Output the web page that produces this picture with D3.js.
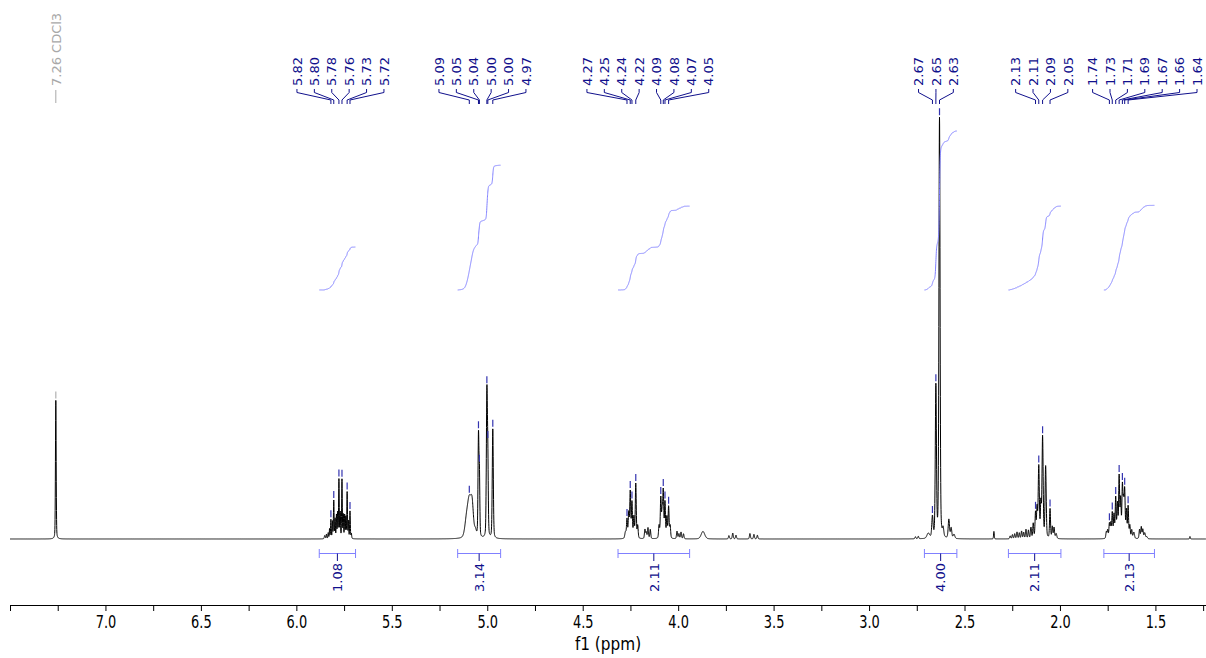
<!DOCTYPE html>
<html>
<head>
<meta charset="utf-8">
<script src="https://cdn.jsdelivr.net/npm/d3@7"></script>
<style>
  html, body { margin: 0; padding: 0; background: #ffffff; }
  svg { display: block; }
</style>
</head>
<body>
<svg id="chart" width="1206" height="658"></svg>
<script>
// 1H NMR spectrum (CDCl3). Every line: [shift ppm, height, half-width ppm]

const solventLine = [[7.260, 33, 0.0022]];

// Multiplets whose peaks carry shift labels
const vinylCH = [
  [5.819, 4.5, 0.0020], [5.804, 9, 0.0020], [5.777, 14, 0.0020],
  [5.761, 14, 0.0020], [5.734, 11, 0.0020], [5.719, 6.5, 0.0020]
];
const alkeneCH2 = [
  [5.094, 9, 0.012], [5.046, 24, 0.0028], [5.041, 14, 0.0025],
  [5.002, 34, 0.0032], [4.997, 16, 0.0028], [4.971, 26, 0.0032]
];
const oxyCH2 = [
  [4.268, 4.5, 0.003], [4.251, 11, 0.003], [4.242, 8.5, 0.003], [4.222, 13, 0.003],
  [4.091, 9.5, 0.003], [4.078, 11, 0.003], [4.069, 8.5, 0.003], [4.050, 7.5, 0.003]
];
const succinylCH2 = [
  [2.668, 5, 0.004], [2.650, 36, 0.0035], [2.631, 100, 0.0035]
];
const allylCH2 = [
  [2.128, 6, 0.003], [2.111, 17, 0.0035], [2.091, 24, 0.0035], [2.052, 7, 0.003]
];
const chainCH2 = [
  [1.741, 3.5, 0.003], [1.726, 6, 0.003], [1.708, 9.5, 0.003], [1.690, 14.5, 0.003],
  [1.673, 12, 0.003], [1.661, 11, 0.003], [1.643, 7.5, 0.003]
];

// Fine structure and small signals without labels
const unlabeledLines = [
  [5.851, 0.8, 0.003], [5.842, 1.1, 0.002], [5.833, 1.4, 0.002], [5.826, 2.3, 0.0018],
  [5.811, 4, 0.0018], [5.797, 4.6, 0.0018], [5.790, 5.5, 0.0018], [5.784, 6, 0.0018],
  [5.770, 6, 0.0018], [5.754, 5.5, 0.0018], [5.747, 5.5, 0.0018], [5.741, 5, 0.0018],
  [5.727, 4, 0.0018], [5.712, 1.2, 0.002],
  [5.110, 3, 0.010], [5.079, 6.5, 0.008], [5.062, 1.5, 0.006],
  [4.276, 1.5, 0.004], [4.259, 6, 0.003], [4.232, 5, 0.003], [4.212, 3, 0.003],
  [4.174, 2.2, 0.003], [4.167, 1.5, 0.003], [4.158, 2.6, 0.003], [4.146, 2.2, 0.003],
  [4.100, 3, 0.003], [4.084, 6, 0.003], [4.059, 5, 0.003], [4.042, 3, 0.003],
  [4.006, 1.8, 0.003], [3.996, 1.2, 0.003], [3.985, 1.6, 0.003], [3.972, 1.2, 0.003],
  [3.870, 1.8, 0.011],
  [3.734, 0.8, 0.003], [3.714, 1.4, 0.003], [3.697, 0.9, 0.003],
  [3.624, 1.3, 0.003], [3.603, 1.1, 0.003], [3.585, 0.9, 0.003],
  [2.757, 0.5, 0.003], [2.742, 0.6, 0.003], [2.690, 1.2, 0.008],
  [2.612, 2, 0.004], [2.582, 4.5, 0.004], [2.570, 2.5, 0.004], [2.555, 1, 0.005],
  [2.346, 1.8, 0.002],
  [2.261, 0.7, 0.003], [2.249, 1, 0.003], [2.237, 1.2, 0.003], [2.225, 1.6, 0.003],
  [2.213, 1.4, 0.003], [2.201, 1.8, 0.003], [2.190, 1.5, 0.003], [2.178, 2.2, 0.003],
  [2.165, 2, 0.003], [2.152, 2.6, 0.003], [2.140, 3.5, 0.003], [2.120, 7, 0.003],
  [2.100, 8, 0.003], [2.075, 17, 0.0035], [2.040, 2.8, 0.003], [2.031, 2.6, 0.003],
  [2.020, 1.2, 0.004],
  [1.757, 1.6, 0.003], [1.750, 2, 0.003], [1.734, 3.5, 0.003], [1.717, 5.5, 0.003],
  [1.699, 8, 0.003], [1.682, 9, 0.003], [1.667, 8, 0.003], [1.652, 6.5, 0.003],
  [1.634, 3, 0.003], [1.624, 2, 0.003], [1.613, 1.5, 0.004], [1.583, 2.2, 0.003],
  [1.574, 2.8, 0.003], [1.566, 2.2, 0.003], [1.556, 1.4, 0.004], [1.545, 0.5, 0.004],
  [1.319, 0.6, 0.002]
];

// Integration regions
const integralFrom = [5.88, 5.155, 4.315, 2.71, 2.27, 1.77];
const integralTo = [5.69, 4.93, 3.94, 2.54, 1.995, 1.505];
const integralValues = [1.08, 3.14, 2.11, 4.00, 2.11, 2.13];

// Axis ticks
const tickLabels = [7.0, 6.5, 6.0, 5.5, 5.0, 4.5, 4.0, 3.5, 3.0, 2.5, 2.0, 1.5];
const minorStep = 0.25;

const solventName = "CDCl3";

// ---------------------------------------------------------------------------

const W = 1206, H = 658;
const svg = d3.select("#chart");

const x = d3.scaleLinear().domain([7.5, 1.235]).range([10, W]);
const y = d3.scaleLinear().domain([0, 100]).range([539, 119]);
const yInt = d3.scaleLinear().domain([0, 4]).range([290, 131]);

const labeledGroups = [vinylCH, alkeneCH2, oxyCH2, succinylCH2, allylCH2, chainCH2];
const allLines = solventLine.concat(...labeledGroups, unlabeledLines);

// Pseudo-Voigt line shape
function intensity(p) {
  let s = 0;
  for (const [c, h, w] of allLines) {
    const t = (p - c) / w;
    if (t > 400 || t < -400) continue;
    const t2 = t * t;
    s += h * (0.3 / (1 + t2) + 0.7 * Math.exp(-0.693147 * t2));
  }
  return s;
}

const [pLeft, pRight] = x.domain();
const grid = d3.range(pLeft, pRight - 1e-9, -0.0005);
const ppmPts = Array.from(new Set(grid.concat(allLines.map(d => d[0]))))
  .filter(p => p <= pLeft && p >= pRight)
  .sort((a, b) => b - a);
const spectrum = ppmPts.map(p => [p, intensity(p)]);

// Spectrum trace
svg.append("path")
  .datum(spectrum)
  .attr("fill", "none")
  .attr("stroke", "#000")
  .attr("stroke-width", 1)
  .attr("stroke-linejoin", "round")
  .attr("d", d3.line().x(d => x(d[0])).y(d => y(d[1])));

// Integral curves and brackets
const intColor = "#8080ff";
const navy = "#10108c";
const labelFont = "DejaVu Sans, Verdana, sans-serif";

integralValues.forEach((val, i) => {
  const a = integralFrom[i], b = integralTo[i];
  const seg = spectrum.filter(d => d[0] <= a && d[0] >= b);
  const cum = [0];
  for (let k = 1; k < seg.length; k++) {
    cum.push(cum[k - 1] + (seg[k - 1][1] + seg[k][1]) / 2 * (seg[k - 1][0] - seg[k][0]));
  }
  const total = cum[cum.length - 1];
  const curve = seg.map((d, k) => [d[0], cum[k] / total * val]);
  svg.append("path")
    .datum(curve)
    .attr("fill", "none")
    .attr("stroke", intColor)
    .attr("stroke-width", 1)
    .attr("d", d3.line().x(d => x(d[0])).y(d => yInt(d[1])));

  const x1 = x(a), x2 = x(b), xm = (x1 + x2) / 2;
  const g = svg.append("g").attr("stroke", intColor).attr("stroke-width", 1);
  g.append("line").attr("x1", x1).attr("x2", x2).attr("y1", 553.5).attr("y2", 553.5);
  g.append("line").attr("x1", x1).attr("x2", x1).attr("y1", 549).attr("y2", 558);
  g.append("line").attr("x1", x2).attr("x2", x2).attr("y1", 549).attr("y2", 558);
  svg.append("line").attr("x1", xm).attr("x2", xm).attr("y1", 553.5).attr("y2", 561)
    .attr("stroke", navy).attr("stroke-width", 1);
  svg.append("text")
    .attr("transform", `translate(${xm},563) rotate(-90)`)
    .attr("text-anchor", "end")
    .attr("dy", "0.36em")
    .attr("font-family", labelFont)
    .attr("font-size", 13)
    .attr("fill", navy)
    .text(val.toFixed(2));
});

// Peak markers, labels and connectors
const fmt = d3.format(".2f");
const labelStep = 17.4, groupGap = 29, labelMaxX = 1197;
let prevLast = -Infinity;
labeledGroups.forEach(group => {
  const px = group.map(d => x(d[0]));
  const n = px.length;
  let start = d3.mean(px) - (n - 1) / 2 * labelStep;
  if (start < prevLast + groupGap) start = prevLast + groupGap;
  if (start + (n - 1) * labelStep > labelMaxX) start = labelMaxX - (n - 1) * labelStep;
  prevLast = start + (n - 1) * labelStep;

  group.forEach((d, k) => {
    const lx = start + k * labelStep;
    const top = y(intensity(d[0]));
    svg.append("line")
      .attr("x1", px[k]).attr("x2", px[k])
      .attr("y1", top - 9).attr("y2", top - 2)
      .attr("stroke", "#3434b0").attr("stroke-width", 1.2);
    svg.append("path")
      .attr("fill", "none")
      .attr("stroke", navy)
      .attr("stroke-width", 1)
      .attr("d", `M${lx},89V92.5L${px[k]},100V104`);
    svg.append("text")
      .attr("transform", `translate(${lx},86) rotate(-90)`)
      .attr("dy", "0.36em")
      .attr("font-family", labelFont)
      .attr("font-size", 13)
      .attr("fill", navy)
      .text(fmt(d[0]));
  });
});

// Solvent reference label
const sx = x(solventLine[0][0]);
const sTop = y(intensity(solventLine[0][0]));
svg.append("line").attr("x1", sx).attr("x2", sx).attr("y1", sTop - 9).attr("y2", sTop - 2)
  .attr("stroke", "#b0b0b0").attr("stroke-width", 1.2);
svg.append("line").attr("x1", sx).attr("x2", sx).attr("y1", 90).attr("y2", 103)
  .attr("stroke", "#a8a8a8").attr("stroke-width", 1);
svg.append("text")
  .attr("transform", `translate(${sx},86) rotate(-90)`)
  .attr("dy", "0.36em")
  .attr("font-family", labelFont)
  .attr("font-size", 13)
  .attr("fill", "#a8a8a8")
  .text(`${fmt(solventLine[0][0])} ${solventName}`);

// Chemical-shift axis
const axisFont = "DejaVu Sans Condensed, DejaVu Sans, sans-serif";
const tickValues = d3.range(pLeft, pRight - 1e-9, -minorStep);
const axis = d3.axisBottom(x)
  .tickValues(tickValues)
  .tickSize(6)
  .tickSizeOuter(0)
  .tickFormat(d => tickLabels.some(t => Math.abs(t - d) < 1e-9) ? d.toFixed(1) : "");

const axG = svg.append("g").attr("transform", "translate(0,605)").call(axis);
axG.select(".domain").attr("stroke", "#000").attr("stroke-width", 1);
axG.selectAll(".tick line").attr("stroke", "#000");
axG.selectAll(".tick text")
  .attr("y", 10.5)
  .attr("transform", "scale(0.8,1)")
  .attr("fill", "#000")
  .attr("font-family", axisFont)
  .attr("font-size", 18);

svg.append("text")
  .attr("x", d3.mean(x.range()))
  .attr("y", 650)
  .attr("text-anchor", "middle")
  .attr("font-family", axisFont)
  .attr("font-size", 17)
  .attr("fill", "#000")
  .text("f1 (ppm)");
</script>
</body>
</html>
